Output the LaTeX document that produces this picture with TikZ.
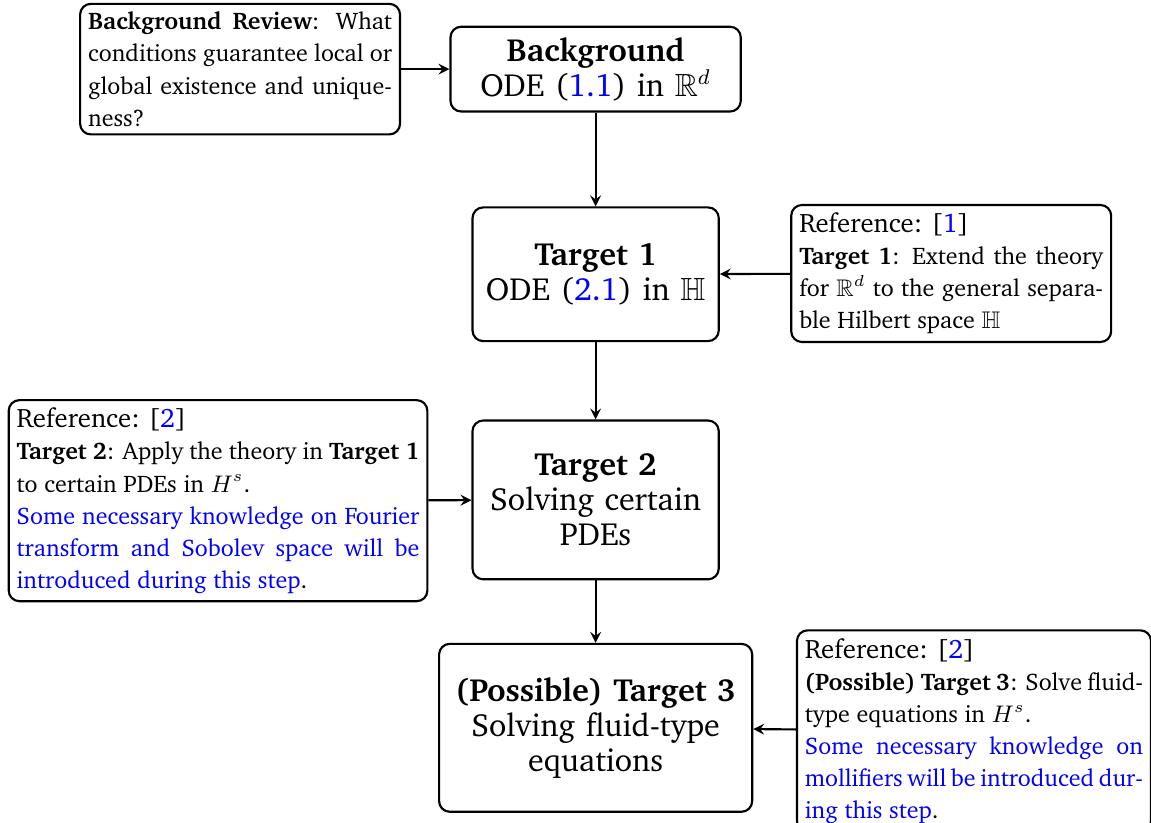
\documentclass[tikz,border=0pt]{standalone}
\usepackage[T1]{fontenc}
\usepackage{charter}
\usepackage{amsmath}
\usepackage{amssymb}
\usepackage{tikz}
\usetikzlibrary{positioning}

\newcommand{\refline}[1]{{\fontsize{10}{12}\selectfont Reference: [\textcolor{blue}{#1}]}}

\begin{document}
\begin{tikzpicture}[>=stealth, thick,
    mainbox/.style={draw, rounded corners=4pt, align=center, inner sep=4pt,
      font=\fontsize{12}{13}\selectfont},
    notebox/.style={draw, rounded corners=4pt, align=justify, inner sep=3pt,
      font=\fontsize{9}{12}\selectfont}]
  \useasboundingbox (0,0) rectangle (15.15,-10.83);

  % Main chain
  \node (bg) at (7.84,-0.91) [mainbox, text width=3.54cm, minimum height=1.08cm]
    {\textbf{Background}\\ ODE (\textcolor{blue}{1.1}) in $\mathbb{R}^d$};
  \node (t1) at (7.84,-3.61) [mainbox, text width=2.96cm, minimum height=1.76cm]
    {\textbf{Target 1}\\ ODE (\textcolor{blue}{2.1}) in $\mathbb{H}$};
  \node (t2) at (7.84,-6.58) [mainbox, text width=2.96cm, minimum height=2.09cm]
    {\textbf{Target 2}\\ Solving certain\\ PDEs};
  \node (t3) at (7.84,-9.58) [mainbox, text width=3.84cm, minimum height=2.21cm]
    {\textbf{(Possible) Target 3}\\ Solving fluid-type\\ equations};

  % Side notes
  \node (review) at (3.16,-0.91) [notebox, text width=4cm]
    {\textbf{Background Review}: What conditions guarantee local or global existence and uniqueness?};
  \node (ref1) at (12.52,-3.60) [notebox, text width=4cm]
    {\refline{1}\\ \textbf{Target 1}: Extend the theory for $\mathbb{R}^d$ to the general separable Hilbert space $\mathbb{H}$};
  \node (ref2) at (2.87,-6.59) [notebox, text width=5.3cm]
    {\refline{2}\\ \textbf{Target 2}: Apply the theory in \textbf{Target 1} to certain PDEs in $H^s$.\\
     \textcolor{blue}{Some necessary knowledge on Fourier transform and Sobolev space will be introduced during this step}.};
  \node (ref3) at (12.82,-9.62) [notebox, text width=4.45cm]
    {\refline{2}\\ \textbf{(Possible) Target 3}: Solve fluid-type equations in $H^s$.\\
     {\spaceskip=2.5pt plus 3pt minus 1.4pt
      \textcolor{blue}{Some necessary knowledge on mollifiers will be introduced dur-\linebreak ing this step}.}};

  % Arrows
  \foreach \src/\dst in {review/bg, bg/t1, ref1/t1, t1/t2, ref2/t2, t2/t3, ref3/t3}
    \draw[->] (\src) -- (\dst);
\end{tikzpicture}
\end{document}
